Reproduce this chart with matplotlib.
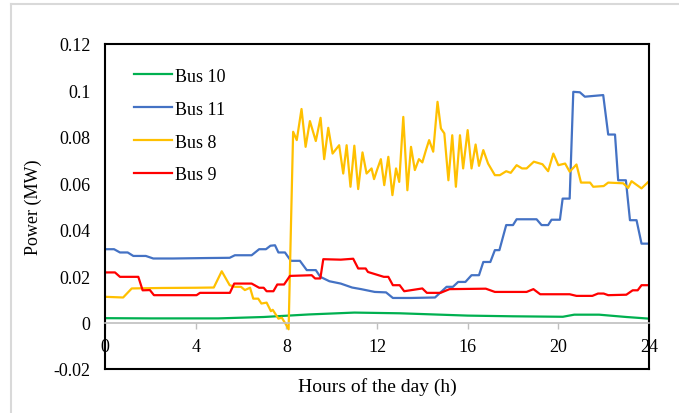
import matplotlib
matplotlib.use("Agg")
import matplotlib.pyplot as plt
from matplotlib.lines import Line2D

plt.rcParams['font.family'] = ['Liberation Serif', 'DejaVu Serif']

# Bus 10 (green)
h10 = [0, 2, 5, 7, 9, 11, 13, 16, 18, 20.2, 20.7, 21.8, 23.0, 24]
p10 = [0.0019, 0.0018, 0.0018, 0.0024, 0.0035, 0.0043, 0.0040, 0.0030, 0.0027, 0.0025, 0.0034, 0.0034, 0.0024, 0.0017]

# Bus 11 (blue)
h11 = [0, 0.4, 0.66, 1.0, 1.25, 1.8, 2.13, 3.0, 4.5, 5.5, 5.73, 6.47, 6.8, 7.1, 7.3, 7.5, 7.65, 7.94,
       8.2, 8.6, 8.9, 9.3, 9.5, 9.9, 10.4, 10.9, 11.3, 11.9, 12.4, 12.7, 13.5, 14.56, 15.07, 15.35,
       15.58, 15.9, 16.17, 16.5, 16.69, 17.0, 17.2, 17.4, 17.7, 18.0, 18.16, 19.04, 19.26, 19.55, 19.7,
       20.07, 20.19, 20.5, 20.66, 20.95, 21.17, 21.98, 22.2, 22.5, 22.64, 22.98, 23.16, 23.45, 23.67, 24]
p11 = [0.0316, 0.0316, 0.0302, 0.0302, 0.0287, 0.0287, 0.0276, 0.0276, 0.0278, 0.0279, 0.029, 0.029,
       0.0316, 0.0316, 0.0331, 0.0333, 0.0302, 0.0302, 0.0266, 0.0266, 0.0226, 0.0226, 0.0197,
       0.0178, 0.0168, 0.0151, 0.0144, 0.0132, 0.013, 0.0106, 0.0106, 0.0108, 0.0154, 0.0154,
       0.0175, 0.0175, 0.0204, 0.0204, 0.0261, 0.0261, 0.0312, 0.0312, 0.042, 0.042, 0.0445, 0.0445,
       0.042, 0.042, 0.0443, 0.0443, 0.0534, 0.0534, 0.0994, 0.0992, 0.0973, 0.098, 0.081, 0.081,
       0.0613, 0.0613, 0.0441, 0.0441, 0.034, 0.034]

# Bus 8 (yellow)
h8 = [0, 0.8, 1.18, 2.5, 4.0, 4.8, 5.15, 5.5, 5.73, 6.0, 6.17, 6.4, 6.54, 6.76, 6.9, 7.13, 7.32, 7.4,
      7.65, 7.8, 8.0, 8.1, 8.2, 8.3, 8.46, 8.67, 8.85, 9.04, 9.3, 9.51, 9.67, 9.85, 10.04, 10.33, 10.51,
      10.66, 10.83, 11.0, 11.17, 11.36, 11.54, 11.76, 11.87, 12.0, 12.17, 12.32, 12.5, 12.68, 12.84,
      12.98, 13.16, 13.34, 13.5, 13.67, 13.85, 14.0, 14.16, 14.3, 14.48, 14.67, 14.82, 14.97, 15.15,
      15.32, 15.48, 15.66, 15.8, 16.0, 16.17, 16.35, 16.5, 16.69, 16.9, 17.2, 17.42, 17.7, 17.9, 18.16,
      18.4, 18.6, 18.92, 19.3, 19.55, 19.78, 20.0, 20.3, 20.5, 20.8, 21.0, 21.4, 21.54, 22.0, 22.2,
      22.86, 23.08, 23.23, 23.67, 24]
p8 = [0.0111, 0.0108, 0.0147, 0.0149, 0.0150, 0.0151, 0.0221, 0.0161, 0.0154, 0.0154, 0.014, 0.015,
      0.0103, 0.0103, 0.0082, 0.0086, 0.0049, 0.0055, 0.0017, 0.0021, -0.0011, -0.0029, 0.040, 0.0822,
      0.0786, 0.092, 0.0757, 0.0868, 0.0782, 0.0882, 0.0704, 0.0839, 0.0728, 0.0764, 0.0642, 0.0764,
      0.0585, 0.0762, 0.0575, 0.0733, 0.0642, 0.0664, 0.0618, 0.0657, 0.0704, 0.0592, 0.0714, 0.0549,
      0.0664, 0.0606, 0.0886, 0.057, 0.0757, 0.0657, 0.0704, 0.069, 0.0743, 0.0786, 0.0736, 0.0951,
      0.0836, 0.0815, 0.0613, 0.0807, 0.0585, 0.0807, 0.0664, 0.0829, 0.0664, 0.0767, 0.0675, 0.0743,
      0.0685, 0.0635, 0.0635, 0.0652, 0.0645, 0.0678, 0.0664, 0.0664, 0.0693, 0.0682, 0.0652, 0.0728,
      0.0678, 0.0685, 0.065, 0.0681, 0.0603, 0.0603, 0.0585, 0.0588, 0.0603, 0.0600, 0.058, 0.0609,
      0.0578, 0.0609]

# Bus 9 (red)
h9 = [0, 0.44, 0.66, 1.47, 1.66, 1.98, 2.16, 4.04, 4.19, 5.51, 5.7, 6.47, 6.8, 7.0, 7.13, 7.43, 7.6,
      7.9, 8.16, 9.12, 9.27, 9.5, 9.63, 10.4, 10.95, 11.17, 11.5, 11.6, 12.3, 12.5, 12.7, 13.0, 13.2,
      14.0, 14.2, 14.8, 15.2, 16.8, 17.2, 18.6, 18.9, 19.2, 20.5, 20.8, 21.5, 21.75, 22.0, 22.2, 23.0,
      23.28, 23.5, 23.67, 24]
p9 = [0.0216, 0.0216, 0.0197, 0.0197, 0.0139, 0.014, 0.0118, 0.0118, 0.0128, 0.0128, 0.0168, 0.0168,
      0.015, 0.015, 0.0135, 0.0135, 0.0164, 0.0164, 0.0201, 0.0204, 0.019, 0.019, 0.0273, 0.0271,
      0.0275, 0.0233, 0.0233, 0.0218, 0.0197, 0.0197, 0.0161, 0.0161, 0.0135, 0.0147, 0.0128, 0.0128,
      0.0144, 0.0146, 0.0132, 0.0132, 0.0144, 0.0122, 0.0122, 0.0115, 0.0115, 0.0125, 0.0125, 0.0118,
      0.0120, 0.0139, 0.0139, 0.0161, 0.0161]

x_ticks = [0, 4, 8, 12, 16, 20, 24]
y_ticks = [-0.02, 0, 0.02, 0.04, 0.06, 0.08, 0.1, 0.12]
y_labels = ['-0.02', '0', '0.02', '0.04', '0.06', '0.08', '0.1', '0.12']

fig = plt.figure(figsize=(6.79, 4.14), dpi=100)
ax = fig.add_axes([105 / 679, 1 - 370 / 414, 544 / 679, 325 / 414])

ax.plot(h10, p10, color='#00B050', lw=1.6, label='Bus 10')
ax.plot(h11, p11, color='#4472C4', lw=1.6, label='Bus 11')
ax.plot(h8, p8, color='#FFC000', lw=1.6, label='Bus 8')
ax.plot(h9, p9, color='#FF0000', lw=1.6, label='Bus 9')

ax.set_xlim(0, 24)
ax.set_ylim(-0.02, 0.12)

# x axis crosses at zero, gray, with outward ticks
ax.spines['bottom'].set_position(('data', 0))
ax.spines['bottom'].set_color('#BFBFBF')
ax.spines['bottom'].set_linewidth(1.2)
for s in ['left', 'right', 'top']:
    ax.spines[s].set_color('black')
    ax.spines[s].set_linewidth(1.5)
ax.plot([0, 1], [0, 0], transform=ax.transAxes, color='black', lw=1.5, clip_on=False)

ax.set_xticks(x_ticks)
ax.set_xticklabels([str(t) for t in x_ticks])
ax.tick_params(axis='x', direction='out', length=4, width=1, color='#BFBFBF',
               labelsize=13, pad=7)
ax.set_yticks(y_ticks)
ax.set_yticklabels(y_labels)
ax.tick_params(axis='y', length=0, labelsize=13, pad=10.5)

ax.set_ylabel('Power (MW)', fontsize=13, labelpad=8)
ax.set_xlabel('Hours of the day (h)', fontsize=14)
ax.xaxis.set_label_coords(0.5, -0.025, transform=ax.transAxes)

ax.legend(loc='upper left', bbox_to_anchor=(0.04, 0.949), frameon=False, fontsize=13,
          handlelength=2.1, labelspacing=0.88, handletextpad=0.15, borderaxespad=0)

# light gray chart-area border
fig.add_artist(Line2D([11 / 679, 1.0], [1 - 5 / 414, 1 - 5 / 414], color='#D9D9D9', lw=1.5))
fig.add_artist(Line2D([11 / 679, 11 / 679], [0.0, 1 - 5 / 414], color='#D9D9D9', lw=1.5))

fig.savefig('out.png', dpi=100)
